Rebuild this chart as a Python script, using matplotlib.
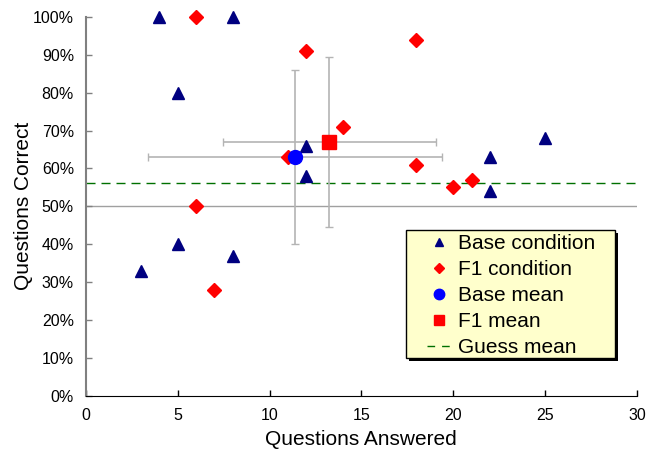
import matplotlib.pyplot as plt
import matplotlib.patches as mpatches
import matplotlib.patheffects as pe
from matplotlib.ticker import PercentFormatter

plt.rcParams['font.family'] = ['Liberation Sans', 'DejaVu Sans']

# Base condition points
base_x = [4, 8, 5, 12, 12, 5, 3, 8, 22, 22, 25]
base_y = [100, 100, 80, 66, 58, 40, 33, 37, 63, 54, 68]

# F1 condition points
f1_x = [6, 12, 18, 14, 11, 18, 20, 21, 6, 7]
f1_y = [100, 91, 94, 71, 63, 61, 55, 57, 50, 28]

# means with error bars (x err, y err)
base_mean = (11.4, 63)
base_err = (8.0, 23)
f1_mean = (13.25, 67)
f1_err = (5.8, 22.4)

guess_mean = 56.2
chance = 50

fig = plt.figure(figsize=(6.6, 4.54), dpi=100)
ax = fig.add_axes([0.130, 0.128, 0.835, 0.835])

ax.axhline(chance, color='#a0a0a0', linewidth=1, zorder=1)
ax.axhline(guess_mean, color='#007000', linewidth=1, linestyle=(0, (6.5, 4.3)), zorder=1)

ax.errorbar(base_mean[0], base_mean[1], xerr=base_err[0], yerr=base_err[1],
            fmt='none', ecolor='#b4b4b4', elinewidth=1.2, capsize=3, zorder=2)
ax.errorbar(f1_mean[0], f1_mean[1], xerr=f1_err[0], yerr=f1_err[1],
            fmt='none', ecolor='#b4b4b4', elinewidth=1.2, capsize=3, zorder=2)

ax.plot(base_x, base_y, '^', color='#000080', markersize=8, linestyle='none',
        label='Base condition', zorder=3, clip_on=False)
ax.plot(f1_x, f1_y, 'D', color='#ff0000', markersize=7, linestyle='none',
        label='F1 condition', zorder=3, clip_on=False)
ax.plot(*base_mean, 'o', color='#0000ff', markersize=10, linestyle='none',
        label='Base mean', zorder=4)
ax.plot(*f1_mean, 's', color='#ff0000', markersize=10, linestyle='none',
        label='F1 mean', zorder=4)
ax.plot([], [], color='#007000', linewidth=1, linestyle=(0, (5.5, 5)), label='Guess mean')

ax.set_xlim(0, 30)
ax.set_ylim(0, 100)
ax.set_xticks(range(0, 31, 5))
ax.set_yticks(range(0, 101, 10))
ax.yaxis.set_major_formatter(PercentFormatter(decimals=0))
ax.tick_params(direction='in', length=4, labelsize=11.5, width=1)
ax.tick_params(axis='y', color='#808080', pad=8.5)
ax.tick_params(axis='x', pad=9)

ax.spines['top'].set_visible(False)
ax.spines['right'].set_visible(False)
ax.spines['left'].set_color('#808080')
ax.spines['left'].set_linewidth(1.5)
ax.spines['bottom'].set_color('black')

ax.set_xlabel('Questions Answered', fontsize=15, labelpad=5)
ax.set_ylabel('Questions Correct', fontsize=15, labelpad=0)

# legend box: pale yellow with a black drop shadow
box = mpatches.Rectangle((0.581, 0.100), 0.379, 0.338, transform=ax.transAxes,
                         facecolor='#ffffcc', edgecolor='black', linewidth=1, zorder=5)
box.set_path_effects([pe.SimplePatchShadow(offset=(2, -2), shadow_rgbFace='black', alpha=1),
                      pe.Normal()])
ax.add_patch(box)

leg = ax.legend(loc='upper left', bbox_to_anchor=(0.619, 0.426), fontsize=15,
                frameon=False, borderpad=0, labelspacing=0.33, handlelength=1.15,
                handletextpad=0.35, borderaxespad=0, markerscale=0.75)
leg.set_zorder(6)

fig.savefig('out.png', dpi=100)
